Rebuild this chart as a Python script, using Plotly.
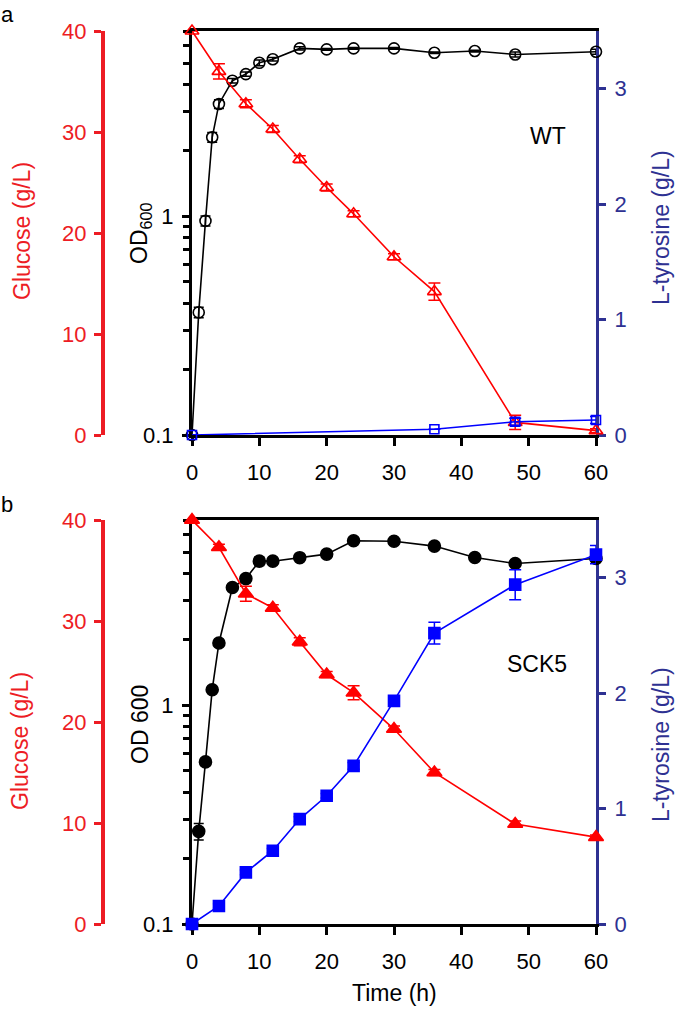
import plotly.graph_objects as go
import math

W, H = 675, 1015
FONT = "Liberation Sans, Arial, sans-serif"
RED_AX = "#ED1C24"
RED = "#FF0000"
NAVY = "#2E3192"
BLUE = "#0000FF"

# ---------------- data ----------------
t_od = [0, 1, 2, 3, 4, 6, 8, 10, 12, 16, 20, 24, 30, 36, 42, 48, 60]
od_wt = [0.1, 0.363, 0.95, 2.29, 3.25, 4.15, 4.45, 5.01, 5.2, 5.83, 5.77, 5.83, 5.83, 5.57, 5.67, 5.47, 5.63]
od_wt_err = [0.0, 0.02, 0.05, 0.12, 0.15, 0.1, 0.1, 0.15, 0.1, 0.1, 0.05, 0.05, 0.05, 0.05, 0.05, 0.15, 0.15]
od_sck5 = [0.1, 0.265, 0.55, 1.175, 1.92, 3.44, 3.78, 4.54, 4.54, 4.71, 4.89, 5.63, 5.6, 5.32, 4.72, 4.43, 4.67]
od_sck5_err = [0.0, 0.023, 0.02, 0.03, 0.05, 0.08, 0.15, 0.2, 0.1, 0.1, 0.08, 0.08, 0.08, 0.08, 0.08, 0.1, 0.1]

t_glc = [0, 4, 8, 12, 16, 20, 24, 30, 36, 48, 60]
glc_wt = [40, 36.0, 32.8, 30.3, 27.3, 24.5, 21.9, 17.65, 14.2, 1.25, 0.43]
glc_wt_err = [0, 0.75, 0.4, 0.35, 0.35, 0.35, 0.3, 0.3, 0.85, 0.7, 0.2]
glc_sck5 = [40, 37.3, 32.7, 31.3, 27.95, 24.7, 22.9, 19.3, 15.0, 9.9, 8.6]
glc_sck5_err = [0, 0.3, 0.75, 0.3, 0.4, 0.3, 0.7, 0.3, 0.3, 0.3, 0.2]

t_tyr_wt = [0, 36, 48, 60]
tyr_wt = [0, 0.05, 0.115, 0.13]
tyr_wt_err = [0, 0.0, 0.03, 0.03]
t_tyr_sck5 = [0, 4, 8, 12, 16, 20, 24, 30, 36, 48, 60]
tyr_sck5 = [0, 0.156, 0.447, 0.635, 0.909, 1.111, 1.37, 1.933, 2.52, 2.94, 3.20]
tyr_sck5_err = [0, 0.02, 0.02, 0.02, 0.02, 0.02, 0.03, 0.04, 0.094, 0.13, 0.08]

x_ticks = [0, 10, 20, 30, 40, 50, 60]
od_ticks = [0.1, 1]
od_ticktext = ["0.1", "1"]
od_minor = [0.2, 0.3, 0.4, 0.5, 0.6, 0.7, 0.8, 0.9, 2, 3, 4, 5, 6, 7]
glc_ticks = [0, 10, 20, 30, 40]
tyr_ticks = [0, 1, 2, 3]

# ---------------- geometry helpers ----------------
def px(x):
    return x / W

def py(y):
    return 1 - y / H

xdom = [px(192), px(596)]
ydom_a = [py(435), py(31)]
ydom_b = [py(924), py(520)]

fig = go.Figure()

def add_panel(xa, y_od, y_glc, y_tyr, od, od_err, glc, glc_err, tt, tyr, tyr_err, filled):
    sym_c = "circle" if filled else "circle-open"
    sym_t = "triangle-up" if filled else "triangle-up-open"
    sym_s = "square" if filled else "square-open"
    fig.add_trace(go.Scatter(
        x=t_od, y=od, xaxis=xa, yaxis=y_od, mode="lines+markers", cliponaxis=False,
        line=dict(color="black", width=1.6),
        marker=dict(symbol=sym_c, size=12 if filled else 11, color="black",
                    line=dict(color="black", width=1.6)),
        error_y=dict(type="data", array=od_err, color="black", thickness=1.5, width=5)))
    fig.add_trace(go.Scatter(
        x=t_glc, y=glc, xaxis=xa, yaxis=y_glc, mode="lines+markers", cliponaxis=False,
        line=dict(color=RED, width=1.6),
        marker=dict(symbol=sym_t, size=13 if filled else 12, color=RED,
                    line=dict(color=RED, width=1.6)),
        error_y=dict(type="data", array=glc_err, color=RED, thickness=1.5, width=6)))
    fig.add_trace(go.Scatter(
        x=tt, y=tyr, xaxis=xa, yaxis=y_tyr, mode="lines+markers", cliponaxis=False,
        line=dict(color=BLUE, width=1.6),
        marker=dict(symbol=sym_s, size=11 if filled else 9, color=BLUE,
                    line=dict(color=BLUE, width=1.6)),
        error_y=dict(type="data", array=tyr_err, color=BLUE, thickness=1.5, width=6)))

add_panel("x", "y", "y2", "y3", od_wt, od_wt_err, glc_wt, glc_wt_err,
          t_tyr_wt, tyr_wt, tyr_wt_err, False)
add_panel("x2", "y4", "y5", "y6", od_sck5, od_sck5_err, glc_sck5, glc_sck5_err,
          t_tyr_sck5, tyr_sck5, tyr_sck5_err, True)

tickfont = dict(family=FONT, size=22, color="black")

def xaxis_cfg(anchor):
    return dict(domain=xdom, anchor=anchor, range=[0, 60], tickvals=x_ticks,
                ticks="outside", ticklen=8, tickwidth=3, tickcolor="black",
                showline=True, linewidth=3, linecolor="black", mirror=True,
                showgrid=False, zeroline=False, tickfont=tickfont, automargin=False,
                ticklabelstandoff=8, layer="below traces")

def od_cfg(dom, anchor):
    return dict(domain=dom, anchor=anchor, type="log", range=[-1, math.log10(7)],
                tickvals=od_ticks, ticktext=od_ticktext, ticks="outside", ticklen=7,
                tickwidth=3, tickcolor="black", showline=True, linewidth=3,
                linecolor="black", showgrid=False, zeroline=False, tickfont=tickfont,
                minor=dict(tickvals=od_minor, ticks="outside", ticklen=6, tickwidth=2.5,
                           tickcolor="black", showgrid=False),
                automargin=False, ticklabelstandoff=4, layer="below traces")

def glc_cfg(over):
    return dict(overlaying=over, anchor="free", position=px(103), side="left",
                range=[0, 40], tickvals=glc_ticks, ticks="outside", ticklen=7,
                tickwidth=3, tickcolor=RED_AX, showline=True, linewidth=4,
                linecolor=RED_AX, showgrid=False, zeroline=False,
                tickfont=dict(family=FONT, size=22, color=RED_AX),
                automargin=False, ticklabelstandoff=3, layer="below traces")

def tyr_cfg(over, anchor):
    return dict(overlaying=over, anchor=anchor, side="right", range=[0, 3.5],
                tickvals=tyr_ticks, ticks="outside", ticklen=7, tickwidth=3,
                tickcolor=NAVY, showline=True, linewidth=3, linecolor=NAVY,
                showgrid=False, zeroline=False,
                tickfont=dict(family=FONT, size=22, color=NAVY),
                automargin=False, ticklabelstandoff=4, layer="below traces")

fig.update_layout(
    width=W, height=H, margin=dict(l=0, r=0, t=0, b=0, pad=0, autoexpand=False),
    paper_bgcolor="white", plot_bgcolor="white", showlegend=False,
    font=dict(family=FONT, size=22, color="black"),
    xaxis=xaxis_cfg("y"),
    yaxis=od_cfg(ydom_a, "x"),
    yaxis2=glc_cfg("y"),
    yaxis3=tyr_cfg("y", "x"),
    xaxis2=xaxis_cfg("y4"),
    yaxis4=od_cfg(ydom_b, "x2"),
    yaxis5=glc_cfg("y4"),
    yaxis6=tyr_cfg("y4", "x2"),
)

def ann(text, x, y, color="black", size=23, angle=0):
    fig.add_annotation(text=text, x=px(x), y=py(y), xref="paper", yref="paper",
                       xanchor="center", yanchor="middle", showarrow=False,
                       textangle=angle, font=dict(family=FONT, size=size, color=color))

ann("a", 7, 15, size=22)
ann("b", 7, 505, size=22)
ann("Glucose (g/L)", 22, 231, color=RED_AX, angle=-90)
ann("Glucose (g/L)", 20, 741, color=RED_AX, angle=-90)
ann("OD<sub>600</sub>", 141, 234, angle=-90)
ann("OD 600", 140, 725, angle=-90)
ann("L-tyrosine (g/L)", 661, 228, color=NAVY, angle=-90)
ann("L-tyrosine (g/L)", 661, 745, color=NAVY, angle=-90)
ann("WT", 548, 136)
ann("SCK5", 537, 664)
ann("Time (h)", 394, 993)

fig.write_html(
    "out.html",
    config={"displayModeBar": False},
    post_script="document.body.style.margin='0';document.body.style.padding='0';"
                "document.documentElement.style.overflow='hidden';",
)
